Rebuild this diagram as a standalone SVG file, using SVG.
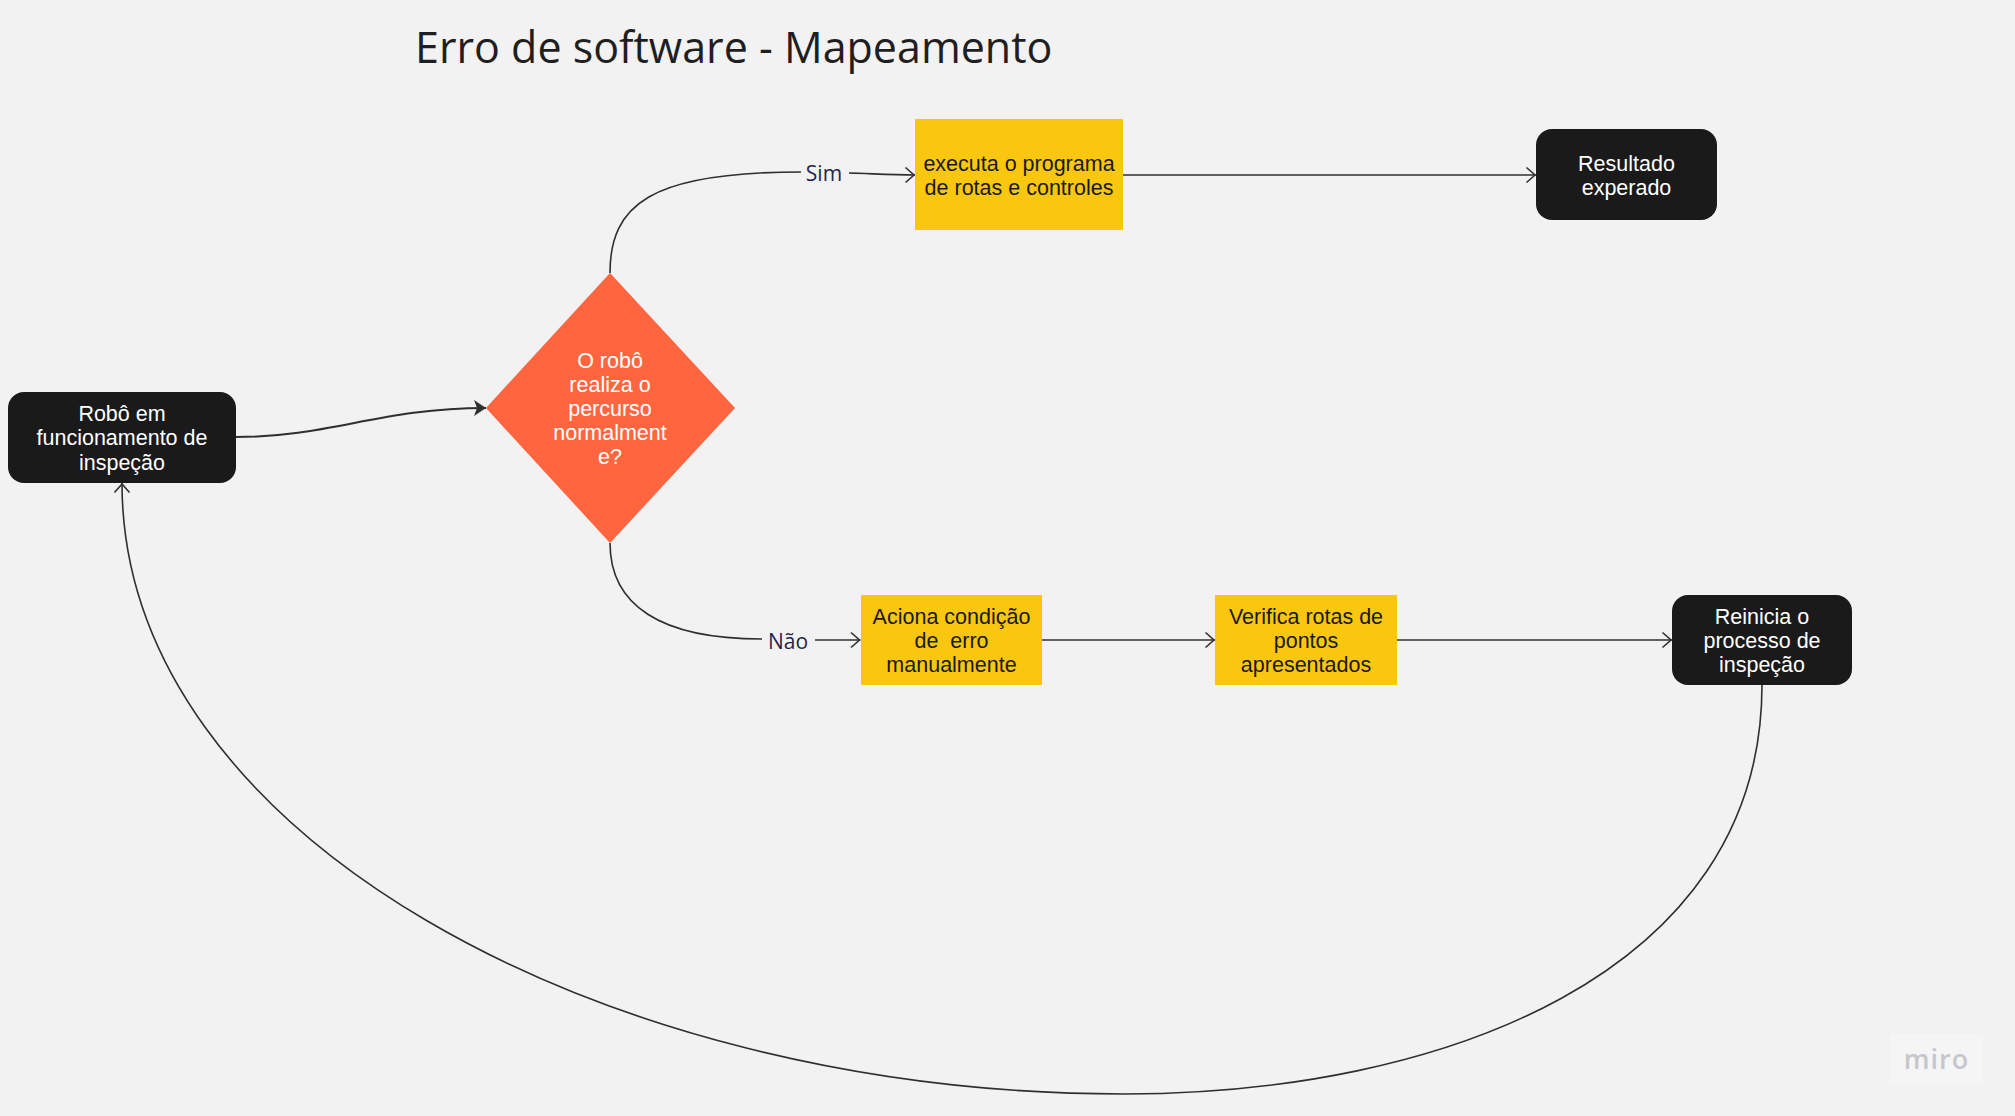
<svg xmlns="http://www.w3.org/2000/svg" width="2015" height="1116" viewBox="0 0 2015 1116">
<style>
.c{fill:none;stroke:#2f2f2f;stroke-width:1.6}
.t{font-family:"Liberation Sans",Arial,sans-serif;font-size:21.5px;text-anchor:middle;white-space:pre;transform:translateY(.6px)}
.w{fill:#fff}.k{fill:#1a1a1a}
.d{fill:#1a1a1a}.y{fill:#fac710}
.l{font-family:"Open Sans","Noto Sans",sans-serif;font-size:21px;fill:#25254d;text-anchor:middle}
</style>
<defs>
<marker id="a" markerUnits="userSpaceOnUse" markerWidth="14" markerHeight="20" refX="11.500" refY="10" orient="auto"><path d="M2,2.500L10.500,10L2,17.500" fill="none" stroke="#2f2f2f" stroke-width="1.6"/></marker>
<marker id="b" markerUnits="userSpaceOnUse" markerWidth="16" markerHeight="20" refX="12" refY="8" orient="auto"><path d="M0,0L12,8L0,16L3,8Z" fill="#2f2f2f"/></marker>
</defs>
<rect id="background" width="2015" height="1116" fill="#f2f2f2"/>
<text id="title" x="415" y="62.500" font-family="'Open Sans','Noto Sans',sans-serif" font-size="43px" fill="#1f1f1f">Erro de software - Mapeamento</text>
<g id="connectors">
<path class="c" d="M236,437C330,437 380,408 486,408" style="stroke-width:2" marker-end="url(#b)"/>
<path class="c" d="M610,273C610,205 650,172 801,172"/>
<path class="c" d="M849,173C870,173.500 890,175 915,175" marker-end="url(#a)"/>
<path class="c" d="M610,543C610,605 660,639 762,639"/>
<path class="c" d="M815,640L860.500,640" marker-end="url(#a)"/>
<path class="c" d="M1123,175L1536,175" marker-end="url(#a)"/>
<path class="c" d="M1042,640L1215,640" marker-end="url(#a)"/>
<path class="c" d="M1397,640L1672,640" marker-end="url(#a)"/>
<path class="c" d="M1762,685C1762,975 1440,1094 1124,1094C600,1094 122,835 122,483" marker-end="url(#a)"/>
<text class="l" x="824" y="181">Sim</text>
<text class="l" x="788" y="649">Não</text>
</g>
<g id="node-robo"><rect class="d" x="8" y="392" width="228" height="91" rx="16"/>
<text class="t w" x="122" y="420">Robô em</text><text class="t w" x="122" y="444">funcionamento de</text><text class="t w" x="122" y="469">inspeção</text></g>
<g id="node-decisao"><polygon points="610,273 735,408 610,543 486,408" fill="#ff6640"/>
<text class="t w" x="610" y="367">O robô</text><text class="t w" x="610" y="391">realiza o</text><text class="t w" x="610" y="415">percurso</text><text class="t w" x="610" y="439">normalment</text><text class="t w" x="610" y="463">e?</text></g>
<g id="node-executa"><rect class="y" x="915" y="119" width="208" height="111"/>
<text class="t k" x="1019" y="170">executa o programa</text><text class="t k" x="1019" y="194">de rotas e controles</text></g>
<g id="node-resultado"><rect class="d" x="1536" y="129" width="181" height="91" rx="16"/>
<text class="t w" x="1626.500" y="170">Resultado</text><text class="t w" x="1626.500" y="194">experado</text></g>
<g id="node-aciona"><rect class="y" x="861" y="595" width="181" height="90"/>
<text class="t k" x="951.500" y="623">Aciona condição</text><text class="t k" x="951.500" y="647">de  erro</text><text class="t k" x="951.500" y="671">manualmente</text></g>
<g id="node-verifica"><rect class="y" x="1215" y="595" width="182" height="90"/>
<text class="t k" x="1306" y="623">Verifica rotas de</text><text class="t k" x="1306" y="647">pontos</text><text class="t k" x="1306" y="671">apresentados</text></g>
<g id="node-reinicia"><rect class="d" x="1672" y="595" width="180" height="90" rx="16"/>
<text class="t w" x="1762" y="623">Reinicia o</text><text class="t w" x="1762" y="647">processo de</text><text class="t w" x="1762" y="671">inspeção</text></g>
<g id="watermark"><rect x="1890" y="1034" width="93" height="50" fill="#f5f5f5"/>
<text x="1936.500" y="1069" font-family="'Open Sans','Noto Sans',sans-serif" font-size="27px" font-weight="600" letter-spacing="1" fill="#c5c6ce" text-anchor="middle">miro</text></g>
</svg>
